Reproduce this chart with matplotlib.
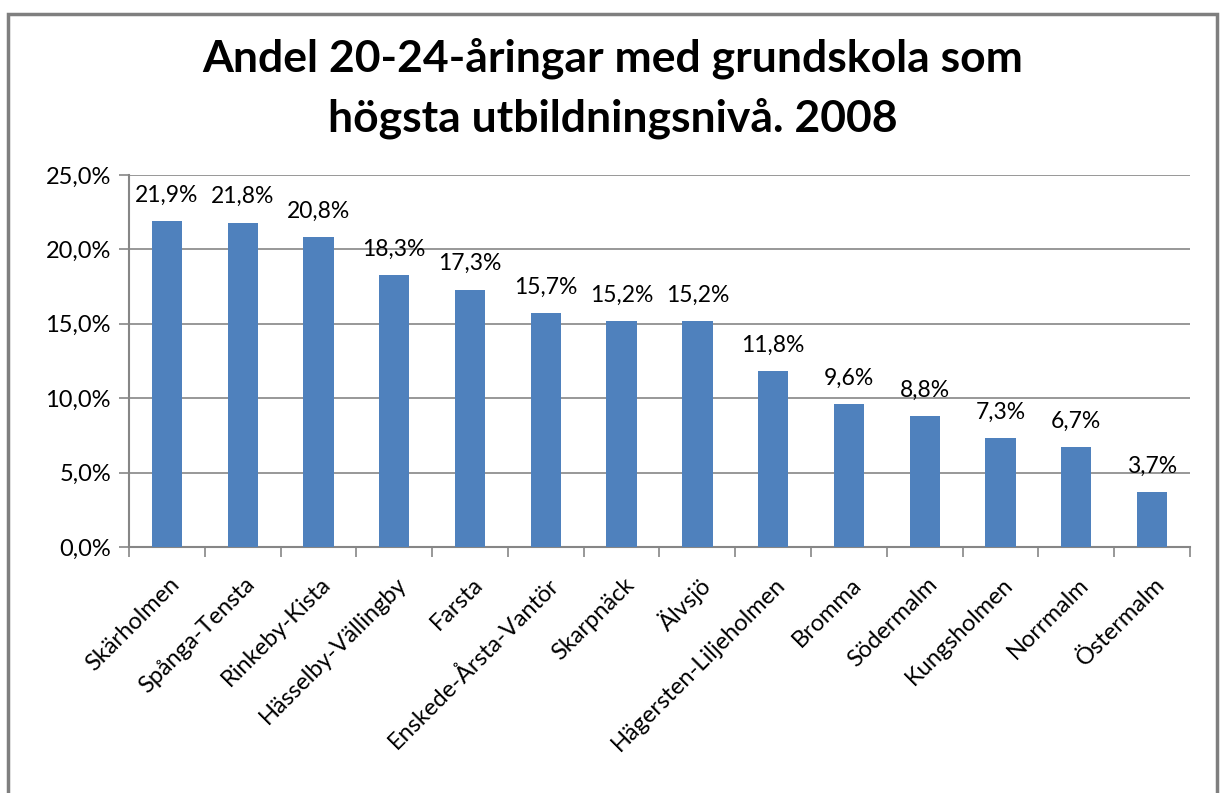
import matplotlib

matplotlib.use("Agg")

import matplotlib.pyplot as plt
from matplotlib.patches import Rectangle
from matplotlib.ticker import FixedLocator, FuncFormatter

plt.rcParams["font.family"] = ["Lato", "DejaVu Sans"]

districts = [
    "Skärholmen", "Spånga-Tensta", "Rinkeby-Kista", "Hässelby-Vällingby",
    "Farsta", "Enskede-Årsta-Vantör", "Skarpnäck", "Älvsjö",
    "Hägersten-Liljeholmen", "Bromma", "Södermalm", "Kungsholmen",
    "Norrmalm", "Östermalm",
]
shares = [21.9, 21.8, 20.8, 18.3, 17.3, 15.7, 15.2, 15.2, 11.8, 9.6, 8.8, 7.3, 6.7, 3.7]
y_ticks = [0, 5, 10, 15, 20, 25]

bar_color = "#4F81BD"
grid_color = "#868686"

fig = plt.figure(figsize=(12.22, 7.93), dpi=100)
W, H = 1222, 793
ax = fig.add_axes([129 / W, 1 - 547 / H, (1190 - 129) / W, (547 - 175) / H])

x = list(range(len(districts)))
ax.bar(x, shares, width=0.4, color=bar_color, zorder=3)
ax.set_xlim(-0.5, len(districts) - 0.5)
ax.set_ylim(0, 25)

for xi, v in zip(x, shares):
    ax.annotate(f"{v:.1f}%".replace(".", ","), (xi, v), xytext=(0, 11),
                textcoords="offset points", ha="center", va="bottom",
                fontsize=16.5, color="black")

ax.set_yticks(y_ticks)
ax.yaxis.set_major_formatter(FuncFormatter(lambda v, _: f"{v:.1f}%".replace(".", ",")))
ax.yaxis.grid(True, color=grid_color, linewidth=1.2, zorder=0)
ax.tick_params(axis="y", length=7, width=1.2, color=grid_color, labelsize=17, pad=6)

# category labels between boundary ticks
ax.xaxis.set_major_locator(FixedLocator([i - 0.5 for i in range(len(districts) + 1)]))
ax.xaxis.set_major_formatter(FuncFormatter(lambda v, _: ""))
ax.tick_params(axis="x", length=7, width=1.2, color=grid_color)
for xi, name in zip(x, districts):
    ax.text(xi + 0.12, -2.3, name, rotation=45, rotation_mode="anchor",
            ha="right", va="center", fontsize=17)

for side in ["top", "right"]:
    ax.spines[side].set_visible(False)
for side in ["left", "bottom"]:
    ax.spines[side].set_color(grid_color)
    ax.spines[side].set_linewidth(1.5)

fig.text(613 / W, 1 - 58 / H, "Andel 20-24-åringar med grundskola som",
         ha="center", va="center", fontsize=32, fontweight="bold")
fig.text(613 / W, 1 - 118 / H, "högsta utbildningsnivå. 2008",
         ha="center", va="center", fontsize=32, fontweight="bold")

fig.patches.append(Rectangle((8 / W, -0.05), (1217 - 8) / W, 1.05 - 14 / H,
                             transform=fig.transFigure, fill=False,
                             edgecolor="#7F7F7F", linewidth=2.5))

fig.savefig("out.png", dpi=100)
